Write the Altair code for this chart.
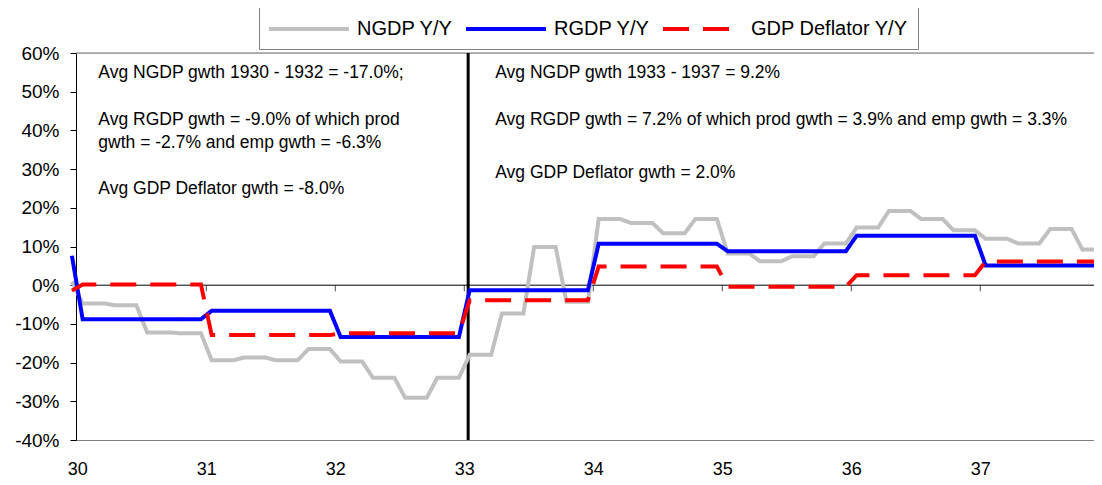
import altair as alt
import pandas as pd

# ---------------- data ----------------
series_names = ["NGDP Y/Y", "RGDP Y/Y", "GDP Deflator Y/Y"]
series_colors = ["#C0C0C0", "#0000FF", "#FF0000"]
series_dashes = [[1, 0], [1, 0], [26, 14]]

# value for Dec 1929 (first plotted month), in %
dec1929_ngdp = 0.9
dec1929_rgdp = 7.6
dec1929_defl = -1.4

years = [30, 31, 32, 33, 34, 35, 36, 37]

# NGDP Y/Y, quarterly, % (1930Q1 .. 1937Q4)
ngdp_quarterly = [
    -4.7, -5.2, -12.2, -12.4,
    -19.4, -18.7, -19.4, -16.5,
    -19.7, -23.9, -29.1, -23.9,
    -18.0, -7.3, 9.9, -4.3,
    17.1, 16.1, 13.4, 17.1,
    8.2, 6.2, 7.5, 10.8,
    14.9, 19.2, 17.1, 14.2,
    12.0, 10.8, 14.5, 9.2,
]
# RGDP Y/Y and GDP deflator Y/Y, annual, % (1930 .. 1937)
rgdp_annual = [-8.8, -6.6, -13.4, -1.3, 10.7, 8.8, 12.8, 5.1]
defl_annual = [0.2, -12.9, -12.4, -3.9, 4.8, -0.4, 2.6, 6.1]

tick_years = [30, 31, 32, 33, 34, 35, 36, 37]
y_ticks = [-0.4, -0.3, -0.2, -0.1, 0.0, 0.1, 0.2, 0.3, 0.4, 0.5, 0.6]

divider_year = [33.03]

ann_x = [30.163, 30.163, 30.163, 30.163, 33.24, 33.24, 33.24]
ann_y = [0.548, 0.427, 0.367, 0.249, 0.548, 0.427, 0.290]
ann_text = [
    "Avg NGDP gwth 1930 - 1932 = -17.0%;",
    "Avg RGDP gwth = -9.0% of which prod",
    "gwth = -2.7% and emp gwth = -6.3%",
    "Avg GDP Deflator gwth = -8.0%",
    "Avg NGDP gwth 1933 - 1937 = 9.2%",
    "Avg RGDP gwth = 7.2% of which prod gwth = 3.9% and emp gwth = 3.3%",
    "Avg GDP Deflator gwth = 2.0%",
]

# ---------------- build monthly table ----------------
def month_x(k):
    # k = 0 is Jan 1930; points sit in the middle of each month slot
    return 30 + (k + 0.5) / 12.0

rows = []
rows.append({"x": month_x(-1), "y": dec1929_ngdp / 100, "series": series_names[0]})
rows.append({"x": month_x(-1), "y": dec1929_rgdp / 100, "series": series_names[1]})
rows.append({"x": month_x(-1), "y": dec1929_defl / 100, "series": series_names[2]})
for k in range(len(years) * 12):
    q = k // 3
    a = k // 12
    rows.append({"x": month_x(k), "y": ngdp_quarterly[q] / 100, "series": series_names[0]})
    rows.append({"x": month_x(k), "y": rgdp_annual[a] / 100, "series": series_names[1]})
    rows.append({"x": month_x(k), "y": defl_annual[a] / 100, "series": series_names[2]})
df = pd.DataFrame(rows)

ann_df = pd.DataFrame({"x": ann_x, "y": ann_y, "text": ann_text})
tick_df = pd.DataFrame({"x": tick_years, "y": [0.0] * len(tick_years)})
zero_df = pd.DataFrame({"y": [0.0]})
top_df = pd.DataFrame({"y": [0.6]})
div_df = pd.DataFrame({"x": divider_year})

FONT = "Liberation Sans"

PLOT_W = 1018
x_scale = alt.Scale(domain=[29.99, 29.99 + PLOT_W / 129.0], nice=False, zero=False)
y_scale = alt.Scale(domain=[-0.4, 0.6], nice=False, zero=False)

x_axis = alt.Axis(values=tick_years, format="d", title=None, grid=False,
                  ticks=False, tickSize=0, labelPadding=20, labelFontSize=18,
                  labelFont=FONT, labelColor="black", domainColor="#808080",
                  labelFlush=False)
y_axis = alt.Axis(values=y_ticks, labelExpr="round(datum.value*100) + '%'",
                  title=None, grid=False, tickSize=6, tickColor="black",
                  domainColor="black", labelPadding=11, labelFontSize=19,
                  labelFont=FONT, labelColor="black")

X = alt.X("x:Q", scale=x_scale, axis=x_axis)
Y = alt.Y("y:Q", scale=y_scale, axis=y_axis)

color_enc = alt.Color(
    "series:N",
    scale=alt.Scale(domain=series_names, range=series_colors),
    legend=alt.Legend(
        title=None, orient="none", legendX=183, legendY=-46,
        direction="horizontal", symbolType="M-4,0H4", symbolSize=400,
        symbolStrokeWidth=4, symbolOffset=28, labelFontSize=20, labelFont=FONT,
        labelColor="black", labelLimit=400, columnPadding=5, labelOffset=36,
        padding=10, strokeColor="#808080", fillColor="white",
    ),
)
dash_enc = alt.StrokeDash(
    "series:N",
    scale=alt.Scale(domain=series_names, range=series_dashes),
    legend=alt.Legend(title=None),
)

def series_layer(name):
    return (
        alt.Chart(df)
        .transform_filter(alt.datum.series == name)
        .mark_line(strokeWidth=4, clip=False)
        .encode(x=X, y=Y, color=color_enc, strokeDash=dash_enc)
    )

zero_line = alt.Chart(zero_df).mark_rule(color="black", strokeWidth=1).encode(
    y=alt.Y("y:Q", scale=y_scale, axis=y_axis))
top_line = alt.Chart(top_df).mark_rule(color="#707070", strokeWidth=1).encode(
    y=alt.Y("y:Q", scale=y_scale, axis=y_axis))
zero_ticks = alt.Chart(tick_df).mark_tick(
    orient="vertical", size=6, thickness=1, color="black", yOffset=3
).encode(x=X, y=Y)
divider = alt.Chart(div_df).mark_rule(color="black", strokeWidth=3).encode(
    x=alt.X("x:Q", scale=x_scale, axis=x_axis))
annotations = alt.Chart(ann_df).mark_text(
    align="left", baseline="middle", fontSize=17.5, font=FONT, color="black"
).encode(x=X, y=Y, text="text:N")

chart = alt.layer(
    zero_line,
    top_line,
    zero_ticks,
    divider,
    series_layer(series_names[0]),
    series_layer(series_names[1]),
    series_layer(series_names[2]),
    annotations,
).properties(
    width=PLOT_W,
    height=387,
    padding={"left": 68, "top": 45, "right": 0, "bottom": 40},
    autosize=alt.AutoSizeParams(type="none"),
).configure_view(
    stroke=None
).configure(
    font=FONT
)

chart.save("out.html", embed_options={"renderer": "svg", "actions": False})
